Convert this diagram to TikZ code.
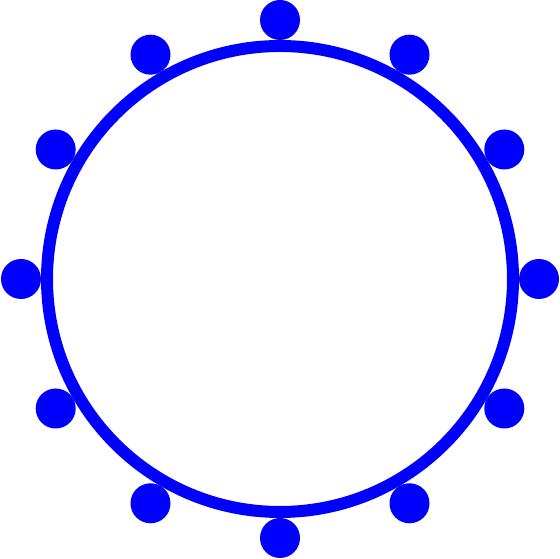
\documentclass[tikz,border=0pt]{standalone}
\usetikzlibrary{calc}
\begin{document}
\begin{tikzpicture}[x=1pt,y=1pt,
  ringstyle/.style={draw=blue,line width=12pt},
  dotstyle/.style={circle,fill=blue,inner sep=0pt,minimum size=40pt}]
\useasboundingbox (0,0) rectangle (560,559);
\coordinate (c) at (280,280);
\draw[ringstyle] (c) circle[radius=233];
\foreach \i in {0,...,11}{
  \node[dotstyle] (d\i) at ($(c)+({90-30*\i}:259)$) {};
}
\end{tikzpicture}
\end{document}
